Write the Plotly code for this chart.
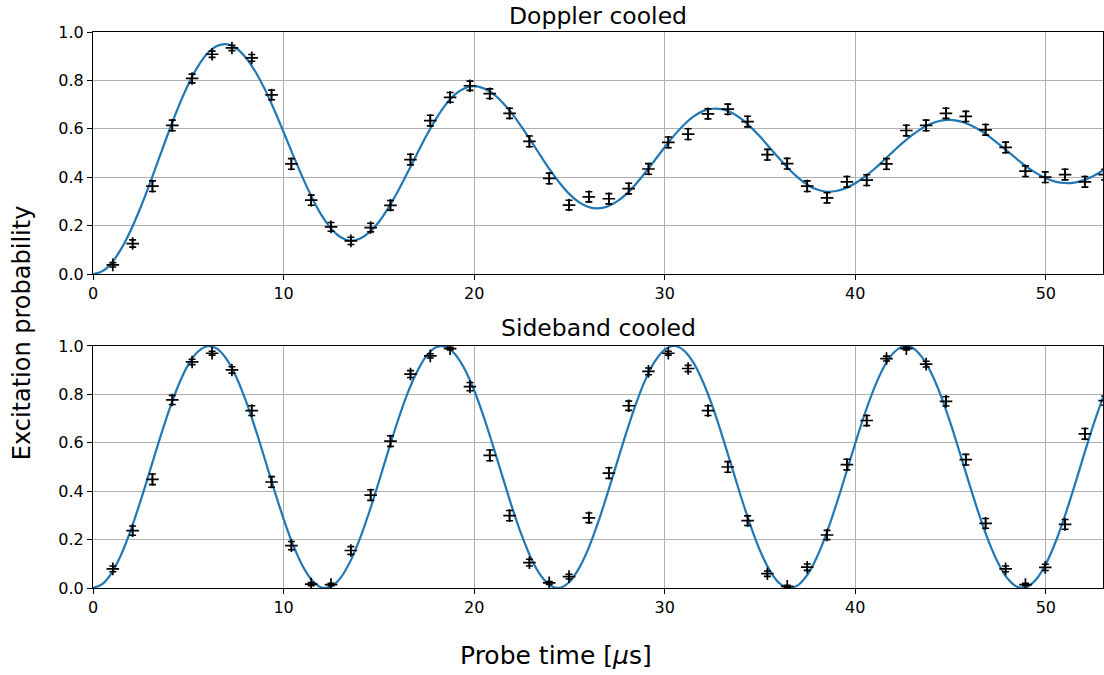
import plotly.graph_objects as go

# ---------------- data ----------------
t_data = [1.04, 2.08, 3.12, 4.16, 5.20, 6.25, 7.29, 8.33, 9.37, 10.41,
          11.45, 12.49, 13.53, 14.57, 15.61, 16.66, 17.70, 18.74, 19.78, 20.82,
          21.86, 22.90, 23.94, 24.98, 26.02, 27.07, 28.11, 29.15, 30.19, 31.23,
          32.27, 33.31, 34.35, 35.39, 36.43, 37.48, 38.52, 39.56, 40.60, 41.64,
          42.68, 43.72, 44.76, 45.80, 46.84, 47.89, 48.93, 49.97, 51.01, 52.05,
          53.09]

doppler_p = [0.038, 0.126, 0.363, 0.614, 0.808, 0.908, 0.934, 0.893, 0.740, 0.455,
             0.305, 0.195, 0.137, 0.192, 0.284, 0.473, 0.634, 0.730, 0.778, 0.745,
             0.664, 0.548, 0.395, 0.285, 0.319, 0.311, 0.353, 0.434, 0.544, 0.578,
             0.662, 0.681, 0.630, 0.493, 0.456, 0.363, 0.315, 0.381, 0.388, 0.455,
             0.593, 0.614, 0.664, 0.651, 0.596, 0.523, 0.425, 0.400, 0.411, 0.381,
             0.411]
doppler_err = [0.009, 0.015, 0.022, 0.022, 0.018, 0.013, 0.011, 0.014, 0.020, 0.022,
               0.021, 0.018, 0.015, 0.018, 0.020, 0.022, 0.022, 0.020, 0.019, 0.020,
               0.021, 0.022, 0.022, 0.020, 0.021, 0.021, 0.022, 0.022, 0.022, 0.022,
               0.021, 0.021, 0.022, 0.022, 0.022, 0.022, 0.021, 0.022, 0.022, 0.022,
               0.022, 0.022, 0.021, 0.021, 0.022, 0.022, 0.022, 0.022, 0.022, 0.022,
               0.022]

sideband_p = [0.079, 0.237, 0.449, 0.777, 0.934, 0.970, 0.901, 0.733, 0.438, 0.175,
              0.016, 0.014, 0.155, 0.384, 0.607, 0.884, 0.959, 0.989, 0.832, 0.548,
              0.299, 0.105, 0.021, 0.047, 0.290, 0.475, 0.753, 0.895, 0.970, 0.907,
              0.733, 0.500, 0.278, 0.059, 0.007, 0.086, 0.219, 0.510, 0.692, 0.948,
              0.989, 0.925, 0.771, 0.530, 0.267, 0.079, 0.014, 0.085, 0.263, 0.637,
              0.774]
sideband_err = [0.012, 0.019, 0.022, 0.019, 0.011, 0.008, 0.013, 0.020, 0.022, 0.017,
                0.006, 0.005, 0.016, 0.022, 0.022, 0.014, 0.009, 0.005, 0.017, 0.022,
                0.021, 0.014, 0.006, 0.010, 0.020, 0.022, 0.019, 0.014, 0.008, 0.013,
                0.020, 0.022, 0.020, 0.011, 0.004, 0.013, 0.019, 0.022, 0.021, 0.010,
                0.005, 0.012, 0.019, 0.022, 0.020, 0.012, 0.005, 0.013, 0.020, 0.022,
                0.019]

t_fit = [0.0, 0.5, 1.0, 1.5, 2.0, 2.5, 3.0, 3.5, 4.0, 4.5, 5.0, 5.5, 6.0, 6.5, 7.0, 7.5,
         8.0, 8.5, 9.0, 9.5, 10.0, 10.5, 11.0, 11.5, 12.0, 12.5, 13.0, 13.5, 14.0, 14.5,
         15.0, 15.5, 16.0, 16.5, 17.0, 17.5, 18.0, 18.5, 19.0, 19.5, 20.0, 20.5, 21.0,
         21.5, 22.0, 22.5, 23.0, 23.5, 24.0, 24.5, 25.0, 25.5, 26.0, 26.5, 27.0, 27.5,
         28.0, 28.5, 29.0, 29.5, 30.0, 30.5, 31.0, 31.5, 32.0, 32.5, 33.0, 33.5, 34.0,
         34.5, 35.0, 35.5, 36.0, 36.5, 37.0, 37.5, 38.0, 38.5, 39.0, 39.5, 40.0, 40.5,
         41.0, 41.5, 42.0, 42.5, 43.0, 43.5, 44.0, 44.5, 45.0, 45.5, 46.0, 46.5, 47.0,
         47.5, 48.0, 48.5, 49.0, 49.5, 50.0, 50.5, 51.0, 51.5, 52.0, 52.5, 53.0]

doppler_fit = [0.000, 0.012, 0.048, 0.107, 0.184, 0.276, 0.378, 0.486, 0.593, 0.694,
               0.783, 0.857, 0.911, 0.942, 0.950, 0.934, 0.896, 0.839, 0.766, 0.680,
               0.587, 0.491, 0.399, 0.314, 0.242, 0.187, 0.152, 0.138, 0.146, 0.172,
               0.215, 0.273, 0.342, 0.418, 0.496, 0.572, 0.641, 0.699, 0.742, 0.768,
               0.776, 0.767, 0.744, 0.708, 0.662, 0.607, 0.548, 0.487, 0.428, 0.375,
               0.330, 0.297, 0.277, 0.271, 0.279, 0.300, 0.331, 0.373, 0.421, 0.472,
               0.524, 0.573, 0.616, 0.650, 0.673, 0.683, 0.681, 0.667, 0.642, 0.608,
               0.568, 0.523, 0.478, 0.435, 0.398, 0.368, 0.349, 0.340, 0.343, 0.355,
               0.375, 0.402, 0.434, 0.470, 0.507, 0.543, 0.575, 0.602, 0.622, 0.634,
               0.637, 0.631, 0.617, 0.596, 0.570, 0.539, 0.507, 0.474, 0.443, 0.417,
               0.396, 0.382, 0.376, 0.378, 0.388, 0.405, 0.428]

sideband_fit = [0.000, 0.017, 0.065, 0.142, 0.243, 0.361, 0.488, 0.616, 0.736, 0.841,
                0.923, 0.976, 0.999, 0.989, 0.947, 0.875, 0.778, 0.663, 0.537, 0.408,
                0.286, 0.178, 0.091, 0.031, 0.002, 0.006, 0.043, 0.110, 0.203, 0.315,
                0.439, 0.568, 0.692, 0.803, 0.893, 0.959, 0.995, 0.997, 0.966, 0.905,
                0.817, 0.708, 0.585, 0.457, 0.331, 0.217, 0.121, 0.051, 0.010, 0.001,
                0.025, 0.081, 0.164, 0.270, 0.391, 0.519, 0.645, 0.763, 0.863, 0.938,
                0.985, 1.000, 0.982, 0.932, 0.853, 0.752, 0.633, 0.506, 0.378, 0.259,
                0.155, 0.074, 0.021, 0.000, 0.012, 0.056, 0.130, 0.228, 0.344, 0.470,
                0.598, 0.720, 0.827, 0.913, 0.971, 0.998, 0.993, 0.954, 0.886, 0.793,
                0.680, 0.555, 0.426, 0.303, 0.193, 0.103, 0.038, 0.005, 0.004, 0.036,
                0.099, 0.188, 0.298, 0.421, 0.550, 0.675, 0.788]

x_ticks = [0, 10, 20, 30, 40, 50]
y_ticks = [0.0, 0.2, 0.4, 0.6, 0.8, 1.0]
panel_titles = ["Doppler cooled", "Sideband cooled"]
y_label = "Excitation probability"
x_label = "Probe time [<i>μ</i>s]"

# ---------------- figure ----------------
FONT = "DejaVu Sans"
LINE_BLUE = "#1f77b4"

fig = go.Figure()

panels = [(doppler_fit, doppler_p, doppler_err, "x", "y"),
          (sideband_fit, sideband_p, sideband_err, "x2", "y2")]

for fit, p, err, xa, ya in panels:
    fig.add_trace(go.Scatter(
        x=t_fit, y=fit, mode="lines", xaxis=xa, yaxis=ya,
        line=dict(color=LINE_BLUE, width=2.2, shape="spline", smoothing=1.0),
        showlegend=False, hoverinfo="skip"))
    fig.add_trace(go.Scatter(
        x=t_data, y=p, mode="markers", xaxis=xa, yaxis=ya,
        marker=dict(symbol="cross-thin", size=9, color="black",
                    line=dict(color="black", width=1.7)),
        error_y=dict(type="data", array=err, visible=True, color="black",
                     thickness=1.6, width=3.5),
        showlegend=False))

axis_common = dict(
    range=[0, 53], tickvals=x_ticks, showgrid=True, gridcolor="#b0b0b0",
    gridwidth=1, showline=True, mirror=True, linecolor="black", linewidth=1.2,
    ticks="outside", ticklen=5, tickwidth=1, tickcolor="black", zeroline=False,
    tickfont=dict(family=FONT, size=16, color="black"))
yaxis_common = dict(
    range=[0, 1], tickvals=y_ticks, tickformat=".1f", showgrid=True,
    gridcolor="#b0b0b0", gridwidth=1, showline=True, mirror=True,
    linecolor="black", linewidth=1.2, ticks="outside", ticklen=5, tickwidth=1,
    tickcolor="black", zeroline=False,
    tickfont=dict(family=FONT, size=16, color="black"))

fig.update_layout(
    width=1104, height=675,
    margin=dict(l=93, r=1, t=32, b=87),
    paper_bgcolor="white", plot_bgcolor="white",
    font=dict(family=FONT, color="black"),
    xaxis=dict(domain=[0, 1], anchor="y", **axis_common),
    yaxis=dict(domain=[0.5647, 1.0], anchor="x", **yaxis_common),
    xaxis2=dict(domain=[0, 1], anchor="y2", **axis_common),
    yaxis2=dict(domain=[0.0, 0.4353], anchor="x2", **yaxis_common),
)

annotations = [
    dict(text=panel_titles[0], x=0.5, y=1.0296, xref="paper", yref="paper",
         xanchor="center", yanchor="middle", showarrow=False,
         font=dict(family=FONT, size=23.5, color="black")),
    dict(text=panel_titles[1], x=0.5, y=0.4668, xref="paper", yref="paper",
         xanchor="center", yanchor="middle", showarrow=False,
         font=dict(family=FONT, size=23.5, color="black")),
    dict(text=y_label, x=-0.0703, y=0.460, xref="paper", yref="paper",
         xanchor="center", yanchor="middle", showarrow=False, textangle=-90,
         font=dict(family=FONT, size=24, color="black")),
    dict(text=x_label, x=0.4584, y=-0.1223, xref="paper", yref="paper",
         xanchor="center", yanchor="middle", showarrow=False,
         font=dict(family=FONT, size=25, color="black")),
]
fig.update_layout(annotations=annotations)

fig.write_html("out.html")
